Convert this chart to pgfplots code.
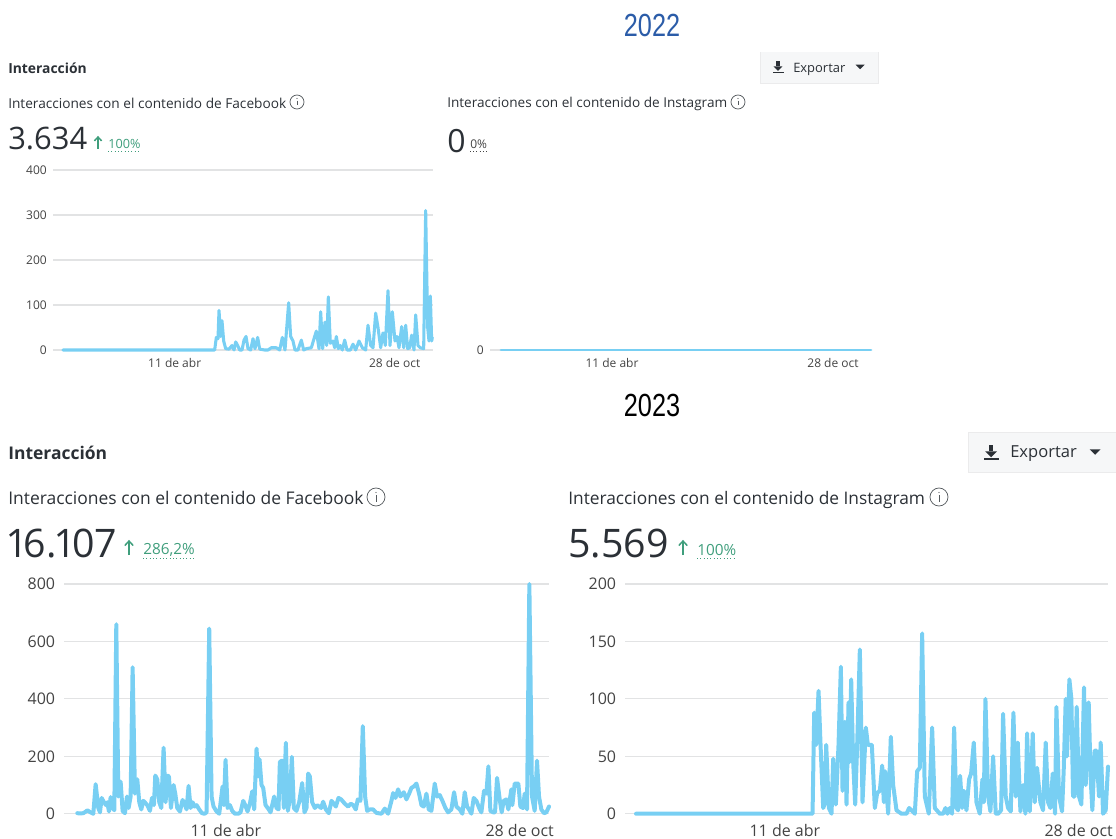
\documentclass[border=0pt]{standalone}
\usepackage{pgfplots}
\usepackage{fontspec}
\pgfplotsset{compat=1.18}
\setmainfont{Open Sans}
\newfontfamily\narrow[FakeStretch=0.79]{Liberation Sans}
\newfontfamily\bignum[Numbers=Proportional]{Open Sans}
\definecolor{linec}{HTML}{78CFF3}
\definecolor{gridc}{HTML}{E2E3E4}
\definecolor{txt}{HTML}{2B3036}
\definecolor{tick}{HTML}{444444}
\definecolor{grn}{HTML}{3F9E7C}
\definecolor{btn}{HTML}{F6F7F8}
\definecolor{blu}{HTML}{2B5CA8}
\newcommand{\fs}[1]{\fontsize{#1pt}{#1pt}\selectfont}
\pgfplotsset{
  uichart/.style={
    scale only axis, axis lines=none, clip=false, anchor=south west,
    ymin=0, ytick pos=left, xtick pos=left,
    ymajorgrids, major grid style={gridc,line width=0.9pt},
    major tick length=0pt,
    /pgf/number format/assume math mode=true,
    /pgf/number format/1000 sep={},
    hide axis=false,
    axis line style={draw=none},
    tick style={draw=none},
  },
  small/.style={
    width=285pt,height=135pt,
    tick label style={font=\fs{9}, text=tick, inner sep=0pt},
    yticklabel style={anchor=east, xshift=-4.5pt},
    xticklabel style={anchor=base, yshift=-13pt},
  },
  big/.style={
    height=172.3pt,
    tick label style={font=\fs{12}, text=tick, inner sep=0pt},
    yticklabel style={anchor=east, xshift=-6.5pt},
    xticklabel style={anchor=base, yshift=-17pt},
  },
  ser/.style={draw=linec, no marks, line join=round, line cap=round},
}
\newcommand{\infoicon}[3]{%
  \draw[txt!80, line width=0.55pt] (#1,#2) circle (#3);
  \fill[txt!80] (#1,#2-#3*0.5) circle (0.45pt);
  \draw[txt!80, line width=0.55pt] (#1,#2-#3*0.2) -- (#1,#2+#3*0.5);
}
\newcommand{\uparr}[3]{%
  \draw[grn, line width=1.1pt] (#1,#2+#3) -- (#1,#2-#3);
  \draw[grn, line width=1.1pt] (#1-#3*0.6,#2-#3*0.35) -- (#1,#2-#3) -- (#1+#3*0.6,#2-#3*0.35);
}
\newcommand{\dlicon}[3]{%
  \fill[txt] (#1-#3*0.3,#2-#3) rectangle (#1+#3*0.3,#2-#3*0.1);
  \fill[txt] (#1-#3*0.8,#2-#3*0.1) -- (#1+#3*0.8,#2-#3*0.1) -- (#1,#2+#3*0.7) -- cycle;
  \fill[txt] (#1-#3,#2+#3*0.85) rectangle (#1+#3,#2+#3*1.1);
}
\newcommand{\caret}[3]{%
  \fill[txt] (#1-#3,#2-#3*0.5) -- (#1+#3,#2-#3*0.5) -- (#1,#2+#3*0.5) -- cycle;
}
\begin{document}
\begin{tikzpicture}[x=0.75pt,y=-0.75pt,
  lbl/.style={anchor=west, inner sep=0pt, text=txt}]
\path[use as bounding box] (0,0) rectangle (1116,838);

% ---- headings
\node[anchor=center, inner sep=0pt, text=blu] at (652,25) {\narrow\fs{24}2022};
\node[anchor=center, inner sep=0pt, text=black] at (652,405) {\narrow\fs{24}2023};

% ---- 2022 header
\node[lbl] at (8,68) {\fs{10.4}\bfseries Interacción};
\fill[btn] (760,52) rectangle (878,83);
\draw[gridc!70, line width=0.4pt] (760,52) -- (760,83) -- (878,83) -- (878,52);
\dlicon{778}{67}{5.5}
\node[lbl] at (793,69) {\fs{9.7}Exportar};
\caret{860}{67}{4.5}

\node[lbl] at (8,103) {\fs{10.25}Interacciones con el contenido de Facebook};
\infoicon{297}{102}{7}
\node[lbl] at (8,139) {\bignum\fs{23.2}3.634};
\uparr{98}{143}{6}
\node[lbl, text=grn] at (108,144) {\fs{9.5}100\%};
\draw[grn, line width=0.5pt, dotted] (108,151) -- (140,151);

\node[lbl] at (447,104) {\fs{10.2}Interacciones con el contenido de Instagram};
\infoicon{738}{102}{7}
\node[lbl] at (447,141) {\fs{24}0};
\node[lbl, text=tick] at (470,144) {\fs{9}0\%};
\draw[tick, line width=0.4pt, dotted] (470,151) -- (487,151);

% ---- 2023 header
\node[lbl] at (8,453) {\fs{13.1}\bfseries Interacción};
\fill[btn] (968,432) rectangle (1116,472);
\draw[gridc!70, line width=0.4pt] (1116,472) -- (968,472) -- (968,432) -- (1116,432);
\dlicon{991}{452}{7.5}
\node[lbl] at (1010,454) {\fs{12.4}Exportar};
\caret{1095}{452}{5.5}

\node[lbl] at (8,498) {\fs{13.1}Interacciones con el contenido de Facebook};
\infoicon{376}{497}{9}
\node[lbl] at (8,544) {\bignum\fs{29.5}16.107};
\uparr{129}{548}{7}
\node[lbl, text=grn] at (143,550) {\fs{11.5}286,2\%};
\draw[grn, line width=0.5pt, dotted] (143,558) -- (196,558);

\node[lbl] at (568,499.5) {\fs{13}Interacciones con el contenido de Instagram};
\infoicon{939}{497}{9}
\node[lbl] at (568,544) {\bignum\fs{29.5}5.569};
\uparr{683}{548}{7}
\node[lbl, text=grn] at (697,550) {\fs{11.5}100\%};
\draw[grn, line width=0.5pt, dotted] (697,558) -- (736,558);

% ---- 2022 Facebook
\begin{axis}[uichart, small, at={(39.75pt,-262.5pt)}, ymax=400, ytick={0,100,200,300,400},
  xmin=160, xmax=1300, xtick={525,1185}, xticklabels={11 de abr,28 de oct}]
\addplot[ser, line width=2.3pt] coordinates {
(190,0)(640,0)(645,0)(650,28)(655,25)(658,88)(663,30)(667,65)(672,20)(678,3)(688,2)(697,10)(703,0)(708,18)(714,10)(720,0)(727,0)(733,22)(739,30)(745,3)(753,0)(760,25)(766,3)(774,28)(780,2)(795,0)(805,0)(815,5)(830,5)(840,0)(848,28)(856,0)(867,105)(873,30)(880,20)(886,0)(895,0)(905,22)(912,0)(920,3)(935,5)(945,30)(950,42)(958,3)(963,85)(969,3)(976,62)(981,10)(986,118)(992,15)(1000,20)(1005,5)(1010,30)(1016,3)(1022,10)(1028,0)(1035,22)(1042,0)(1052,0)(1060,13)(1068,0)(1078,20)(1088,5)(1098,0)(1105,55)(1113,10)(1120,5)(1128,82)(1135,50)(1143,5)(1150,38)(1157,10)(1165,132)(1171,10)(1178,85)(1186,20)(1192,30)(1198,5)(1206,52)(1212,5)(1218,55)(1224,3)(1230,5)(1236,33)(1243,0)(1248,78)(1255,10)(1262,5)(1272,3)(1278,310)(1284,50)(1288,20)(1292,120)(1296,20)(1298,28)
};
\end{axis}

% ---- 2022 Instagram
\begin{axis}[uichart, small, at={(367.5pt,-262.5pt)}, ymax=1, ytick={0},
  xmin=490, xmax=870, xtick={612,833}, xticklabels={11 de abr,28 de oct}]
\addplot[ser, line width=2.1pt] coordinates {(501,0)(612,0)(833,0)(871,0)};
\end{axis}

% ---- 2023 Facebook
\begin{axis}[uichart, big, width=363.75pt, at={(48pt,-610.3pt)}, ymax=800, ytick={0,200,400,600,800},
  xmin=192, xmax=1648, xtick={678,1560}, xticklabels={11 de abr,28 de oct}]
\addplot[ser, line width=3pt] coordinates {
(232,2)(240,1)(250,2)(258,8)(262,12)(270,6)(280,0)(287,103)(295,20)(300,5)(305,55)(312,40)(318,30)(322,40)(327,8)(332,58)(338,20)(343,12)(349,660)(355,60)(362,112)(368,10)(375,2)(381,60)(386,20)(392,60)(398,510)(405,70)(412,120)(418,40)(424,15)(430,45)(436,38)(442,30)(450,10)(456,55)(462,30)(466,133)(472,120)(478,40)(484,20)(491,230)(497,40)(502,133)(507,130)(513,20)(521,100)(526,70)(532,20)(540,8)(548,48)(554,35)(560,15)(566,97)(572,20)(578,40)(584,25)(590,30)(598,15)(606,2)(614,0)(620,5)(628,645)(635,60)(641,25)(650,8)(658,0)(668,95)(672,30)(677,188)(683,20)(690,30)(697,10)(705,0)(715,0)(722,5)(730,45)(736,30)(743,8)(750,35)(757,78)(763,15)(770,227)(775,130)(779,190)(785,100)(790,90)(797,30)(805,18)(812,5)(823,60)(830,20)(836,15)
(840,180)(846,185)(852,20)(858,247)(864,10)(870,50)(876,198)(882,20)(890,10)(898,40)(907,107)(914,5)(920,20)(925,140)(930,130)(937,40)(945,20)(952,30)(958,25)(964,20)(970,42)(978,15)(987,2)(995,45)(1002,35)(1008,25)(1016,55)(1024,50)(1035,35)(1045,25)(1053,35)(1060,30)(1068,15)(1074,50)(1082,45)(1089,305)(1096,60)(1102,10)(1110,15)(1120,15)(1130,3)(1145,0)(1155,18)(1165,0)(1175,45)(1180,72)(1187,55)(1195,85)(1202,60)(1212,75)(1220,50)(1228,70)(1235,90)(1242,95)(1250,105)(1258,70)(1265,30)(1272,25)(1280,70)(1287,15)(1295,10)(1305,105)(1312,60)(1320,65)(1328,45)(1337,20)(1345,5)(1355,15)(1363,75)(1370,25)(1380,15)(1388,0)(1395,75)(1402,25)(1408,15)(1415,0)(1422,55)(1430,45)(1440,15)(1445,5)(1453,80)(1460,70)(1466,165)(1472,10)(1480,5)(1486,5)(1492,125)(1500,50)(1506,5)(1512,45)(1520,50)(1526,15)(1535,85)(1538,30)(1545,105)(1556,105)(1562,25)(1570,20)(1575,70)(1582,15)(1589,800)(1597,60)(1605,10)(1612,185)(1618,60)(1625,15)(1633,2)(1640,5)(1648,25)
};
\end{axis}

% ---- 2023 Instagram
\begin{axis}[uichart, big, width=362.25pt, at={(468.75pt,-610.3pt)}, ymax=200, ytick={0,50,100,150,200},
  xmin=-465, xmax=985, xtick={15,897}, xticklabels={11 de abr,28 de oct}]
\addplot[ser, line width=3pt] coordinates {
(-432,0)(98,0)(103,88)(109,60)(116,107)(122,60)(130,5)(134,8)(139,60)(147,5)(155,0)(160,48)(168,8)(176,60)(183,128)(188,20)(195,80)(200,8)(206,97)(209,45)(214,117)(220,45)(226,8)(232,60)(240,143)(248,10)(258,75)(264,60)(272,60)(276,60)(285,5)(292,18)(300,20)(307,42)(312,10)(316,37)(325,0)(333,67)(340,25)(350,3)(365,0)(380,0)(388,5)(395,3)(405,0)(412,37)(420,40)(427,157)(435,15)(447,0)(457,75)(465,5)(480,0)(490,0)(497,5)(503,0)(510,5)(517,0)(523,75)(530,5)(535,3)(541,33)(547,5)(552,20)(560,3)(568,30)(574,35)(582,62)(590,10)(600,0)(608,30)(612,10)(617,100)(625,15)(632,2)(640,50)(648,0)(655,0)(664,3)(670,87)(678,15)(685,5)(693,2)(701,88)(708,15)(714,62)(722,2)(730,25)(737,0)(742,70)(750,2)(759,70)(765,10)(772,40)(782,10)(790,3)(798,62)(805,10)(812,5)(819,35)(826,0)(830,93)(838,15)(847,2)(852,38)(858,100)(862,50)(869,117)(875,100)(880,15)(885,15)(891,93)(898,15)(905,8)(913,110)(918,25)(927,97)(933,30)(938,3)(945,55)(950,55)(958,15)(963,62)(970,0)(978,3)(985,41)
};
\end{axis}
\end{tikzpicture}
\end{document}
